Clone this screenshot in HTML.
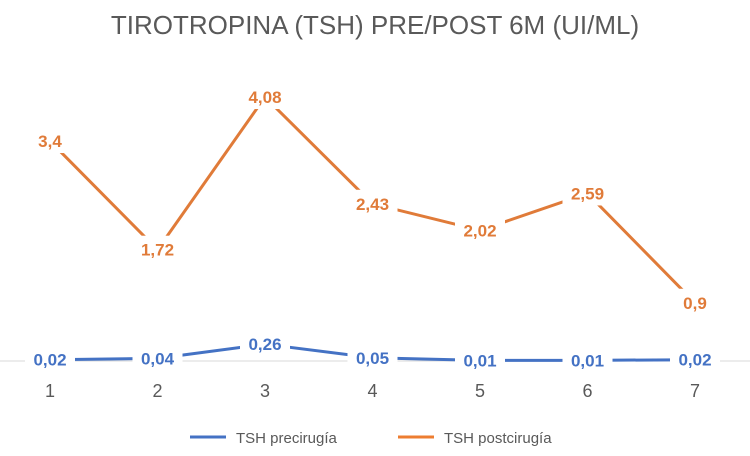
<!DOCTYPE html>
<html><head><meta charset="utf-8"><style>
body{margin:0;background:#fff;}
svg{display:block;font-family:"Liberation Sans",sans-serif;}
</style></head><body>
<svg id="chart" width="750" height="456">
<text x="375" y="34" text-anchor="middle" font-size="26" fill="#595959">TIROTROPINA (TSH) PRE/POST 6M (UI/ML)</text>
<line x1="0" y1="361" x2="750" y2="361" stroke="#d9d9d9" stroke-width="1"/>
<g id="ticks"></g><g id="series"></g><g id="labels"></g>
<g>
<line x1="190" y1="437" x2="226" y2="437" stroke="#4472c4" stroke-width="3"/>
<text x="236" y="443" font-size="15" fill="#595959">TSH precirugía</text>
<line x1="398" y1="437" x2="434" y2="437" stroke="#ed7d31" stroke-width="3"/>
<text x="444" y="443" font-size="15" fill="#595959">TSH postcirugía</text>
</g>
</svg>
<script>
const categories=["1","2","3","4","5","6","7"];
const preValues=[0.02,0.04,0.26,0.05,0.01,0.01,0.02];
const postValues=[3.4,1.72,4.08,2.43,2.02,2.59,0.9];
const preLabels=["0,02","0,04","0,26","0,05","0,01","0,01","0,02"];
const postLabels=["3,4","1,72","4,08","2,43","2,02","2,59","0,9"];
const NS="http://www.w3.org/2000/svg";
const xPos=i=>50+i*107.5;
const yPos=v=>361-64.7*v;
function mk(tag,attrs,parent){const e=document.createElementNS(NS,tag);for(const k in attrs)e.setAttribute(k,attrs[k]);parent.appendChild(e);return e;}
const ticks=document.getElementById('ticks'),series=document.getElementById('series'),labels=document.getElementById('labels');
categories.forEach((c,i)=>{const t=mk('text',{x:xPos(i),y:397,'text-anchor':'middle','font-size':18,fill:'#595959'},ticks);t.textContent=c;

});
function draw(vals,labs,color,name){
 const p=mk('polyline',{points:vals.map((v,i)=>xPos(i)+','+yPos(v)).join(' '),fill:'none',stroke:color,'stroke-width':3,'stroke-linejoin':'round'},series);
 
 
 vals.forEach((v,i)=>{
  const w=labs[i].length*10+10;
  const r=mk('rect',{x:xPos(i)-w/2,y:yPos(v)-14,width:w,height:26,fill:'#fff'},labels);
  
  
  const t=mk('text',{x:xPos(i),y:yPos(v)+6,'text-anchor':'middle','font-size':17,'font-weight':'bold',fill:color},labels);
  t.textContent=labs[i];
  
  
 });
}
draw(preValues,preLabels,'#4472c4','tsh-precirugia');
draw(postValues,postLabels,'#e07b39','tsh-postcirugia');
</script>
</body></html>
